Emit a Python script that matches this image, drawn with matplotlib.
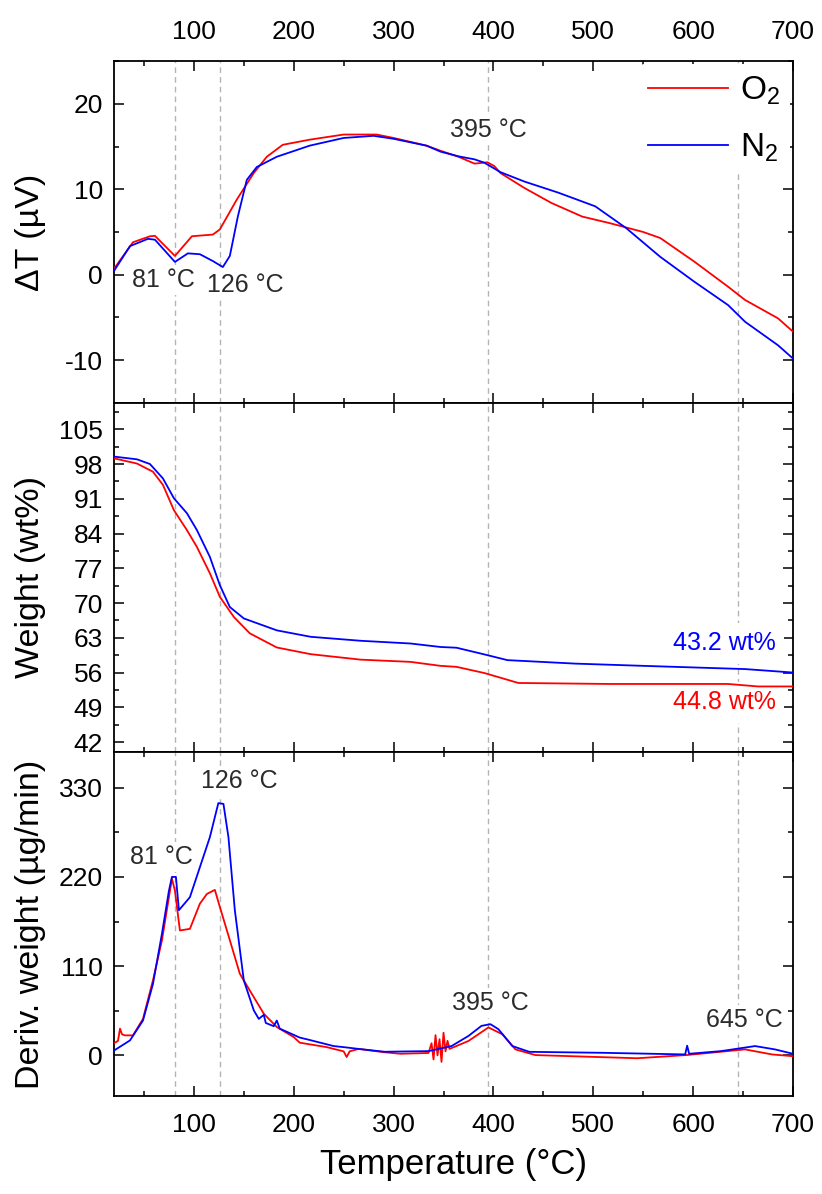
import numpy as np
import matplotlib
matplotlib.use('Agg')
import matplotlib.pyplot as plt
from matplotlib.ticker import MultipleLocator

plt.rcParams['font.family'] = ['Liberation Sans', 'DejaVu Sans']
plt.rcParams['mathtext.default'] = 'regular'
plt.rcParams['axes.unicode_minus'] = False

# --- DTA (delta T, uV) ---
T_dta_o2 = [20, 39, 56, 61, 81, 98, 119, 126, 143, 160, 173, 189, 216, 250, 283, 300, 333, 347,
            365, 381, 394, 401, 407, 431, 458, 489, 516, 550, 567, 601, 635, 652, 685, 700]
dta_o2 = [0.7, 3.8, 4.5, 4.55, 2.2, 4.5, 4.7, 5.3, 8.8, 11.9, 13.8, 15.2, 15.8, 16.4, 16.4, 16.0, 15.1, 14.5,
          13.8, 13.0, 13.15, 12.7, 11.9, 10.15, 8.4, 6.8, 6.05, 5.0, 4.3, 1.55, -1.4, -2.95, -5.1, -6.65]
T_dta_n2 = [20, 36, 54, 61, 81, 94, 106, 119, 129, 136, 144, 153, 163, 183, 216, 250, 280, 300, 333,
            347, 365, 381, 391, 407, 431, 465, 502, 533, 567, 601, 635, 652, 685, 700]
dta_n2 = [0.45, 3.35, 4.2, 4.1, 1.5, 2.5, 2.4, 1.6, 0.9, 2.2, 6.8, 11.1, 12.6, 13.8, 15.1, 16.0, 16.25, 15.9, 15.1,
          14.4, 13.85, 13.5, 13.1, 12.0, 10.9, 9.6, 8.0, 5.45, 2.1, -0.8, -3.55, -5.5, -8.25, -9.8]

# --- TGA (weight %) ---
T_w_o2 = [20, 43, 59, 69, 80, 93, 103, 116, 126, 140, 156, 183, 217, 267, 317, 347, 363, 391, 425,
          516, 635, 665, 700]
w_o2 = [99.15, 98.1, 96.45, 93.8, 88.7, 84.7, 81.3, 76.0, 71.25, 67.2, 63.9, 61.05, 59.7, 58.6, 58.15,
        57.35, 57.15, 55.9, 53.9, 53.7, 53.7, 53.2, 53.2]
T_w_n2 = [20, 43, 56, 69, 80, 93, 103, 116, 126, 136, 150, 183, 217, 267, 317, 347, 363, 391, 414,
          482, 550, 652, 700]
w_n2 = [99.5, 98.95, 98.0, 95.1, 91.1, 88.1, 84.7, 79.3, 73.6, 69.2, 66.9, 64.5, 63.2, 62.4, 61.85,
        61.15, 61.0, 59.65, 58.5, 57.8, 57.35, 56.7, 56.0]

# --- DTG (ug/min) ---
T_dtg_o2 = [20, 24, 26, 28, 31, 39, 49, 59, 68, 75, 78, 81, 86, 96, 106, 113, 121, 126, 136, 146,
            156, 170, 183, 200, 206, 233, 250, 253, 256, 265, 290, 307, 335, 338, 340, 342, 344, 346,
            348, 350, 352, 354, 356, 375, 395, 409, 422, 442, 510, 544, 594, 652, 679, 700]
dtg_o2 = [15, 18, 33, 26, 24.7, 24.7, 45, 92.5, 141.8, 195, 217.8, 203, 154, 156, 187, 199, 204, 183,
          142, 100.7, 80, 51.4, 35, 22.6, 15.7, 10.2, 5, -2, 5, 8, 4, 2, 3, 15, -5, 25, 0, 20, -8, 28,
          5, 18, 8, 17.8, 34.5, 26, 7.4, 0.4, -2.2, -3.5, 0.5, 7.4, 1.2, -1]
T_dtg_n2 = [20, 36, 49, 59, 68, 75, 78, 82, 85, 96, 106, 116, 124.5, 129.6, 134.6, 141, 150, 160,
            165, 170, 172, 180, 183, 186, 206, 216, 240, 250, 265, 291, 335, 358, 375, 388, 397, 405,
            419, 436, 510, 592, 594, 596, 628, 662, 682, 700]
dtg_n2 = [6, 18.5, 43, 88, 150, 203, 220, 220, 179, 195, 232, 269, 311, 310, 269, 179, 92.5, 55.5,
          45, 50, 40, 36, 43, 33, 22, 19, 11.5, 10.2, 8, 4.5, 5.3, 11.5, 24, 36.4, 38.5, 32.3, 11.5,
          4.4, 3.2, 1.2, 12, 2, 5.3, 11.5, 7.4, 2]

peaks = [81, 126, 395, 645]

red = '#ff0000'
blue = '#0000ff'
txtc = '#2b2b2b'

fig = plt.figure(figsize=(8.22, 11.94), dpi=100)
ax1 = fig.add_axes([0.1387, 0.6625, 0.8260, 0.2864])
ax2 = fig.add_axes([0.1387, 0.3702, 0.8260, 0.2923])
ax3 = fig.add_axes([0.1387, 0.0821, 0.8260, 0.2881])

for ax in (ax1, ax2, ax3):
    ax.set_xlim(20, 700)
    ax.xaxis.set_major_locator(MultipleLocator(100))
    ax.xaxis.set_minor_locator(MultipleLocator(50))
    ax.tick_params(which='both', direction='in', top=True, right=True, labelsize=19, pad=8)
    ax.tick_params(axis='x', pad=12)
    ax.tick_params(which='major', length=7, width=1.1)
    ax.tick_params(which='minor', length=3.6, width=1.1)
    for s in ax.spines.values():
        s.set_linewidth(1.3)
    for p in peaks:
        ax.axvline(p, color='#b4b4b4', ls=(0, (4, 3)), lw=1.0, zorder=0.5)

box = dict(facecolor='white', edgecolor='none', pad=2)

# top: DTA
ax1.plot(T_dta_o2, dta_o2, color=red, lw=1.3, label='O$_2$', zorder=3)
ax1.plot(T_dta_n2, dta_n2, color=blue, lw=1.3, label='N$_2$', zorder=3)
ax1.set_ylim(-15, 25)
ax1.yaxis.set_major_locator(MultipleLocator(10))
ax1.yaxis.set_minor_locator(MultipleLocator(5))
ax1.tick_params(labeltop=True, labelbottom=False)
ax1.set_ylabel('ΔT (µV)', fontsize=24.5)
ax1.text(70, -0.6, '81 °C', fontsize=18, color=txtc, ha='center', va='center', bbox=box, zorder=2)
ax1.text(152, -1.2, '126 °C', fontsize=18, color=txtc, ha='center', va='center', bbox=box, zorder=2)
ax1.text(395, 16.9, '395 °C', fontsize=18, color=txtc, ha='center', va='center', bbox=box, zorder=2)
leg = ax1.legend(loc='upper right', fontsize=24, frameon=True, handlelength=2.4,
                 handletextpad=0.35, labelspacing=0.75, borderaxespad=0.1, borderpad=0.3)
leg.get_frame().set_edgecolor('none')
leg.get_frame().set_facecolor('white')
leg.get_frame().set_alpha(1)

# middle: TGA
ax2.plot(T_w_o2, w_o2, color=red, lw=1.3, zorder=3)
ax2.plot(T_w_n2, w_n2, color=blue, lw=1.3, zorder=3)
ax2.set_ylim(40, 110.3)
ax2.yaxis.set_minor_locator(MultipleLocator(3.5))
ax2.set_yticks(np.arange(42, 106, 7))
ax2.tick_params(labelbottom=False)
ax2.set_ylabel('Weight (wt%)', fontsize=24.5)
ax2.text(683, 61.9, '43.2 wt%', fontsize=18, color=blue, ha='right', va='center',
         bbox=dict(facecolor='white', edgecolor='none', pad=6), zorder=2)
ax2.text(683, 50.0, '44.8 wt%', fontsize=18, color=red, ha='right', va='center',
         bbox=dict(facecolor='white', edgecolor='none', pad=6), zorder=2)

# bottom: DTG
ax3.plot(T_dtg_o2, dtg_o2, color=red, lw=1.3, zorder=3)
ax3.plot(T_dtg_n2, dtg_n2, color=blue, lw=1.3, zorder=3)
ax3.set_ylim(-50, 374)
ax3.yaxis.set_major_locator(MultipleLocator(110))
ax3.yaxis.set_minor_locator(MultipleLocator(55))
ax3.set_ylabel('Deriv. weight (µg/min)', fontsize=24.5)
ax3.set_xlabel('Temperature (°C)', fontsize=25, labelpad=8)
ax3.text(67, 244.5, '81 °C', fontsize=18, color=txtc, ha='center', va='center', bbox=box, zorder=2)
ax3.text(145, 338, '126 °C', fontsize=18, color=txtc, ha='center', va='center', bbox=box, zorder=2)
ax3.text(397, 64.4, '395 °C', fontsize=18, color=txtc, ha='center', va='center', bbox=box, zorder=2)
ax3.text(651, 43.5, '645 °C', fontsize=18, color=txtc, ha='center', va='center', bbox=box, zorder=2)

for ax in (ax1, ax2, ax3):
    ax.yaxis.set_label_coords(-0.1, 0.5)

plt.savefig('out.png', dpi=100)
